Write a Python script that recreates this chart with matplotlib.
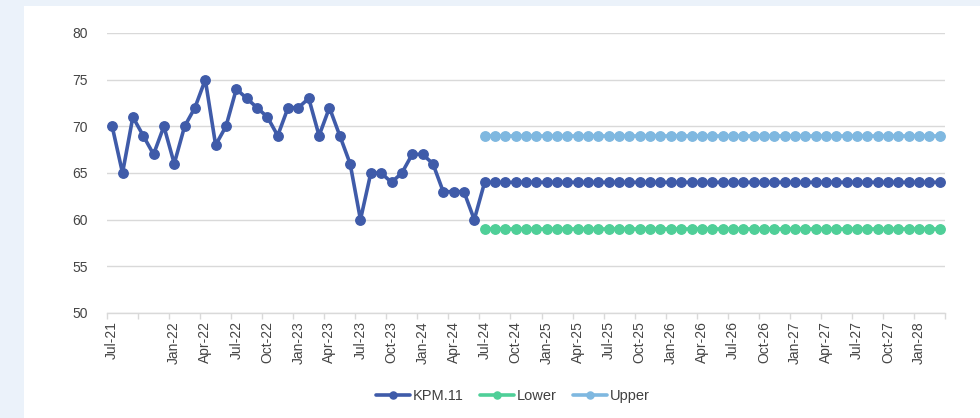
import matplotlib
matplotlib.use("Agg")
import matplotlib.pyplot as plt
from matplotlib.patches import Rectangle
import pandas as pd

# monthly KPM.11 history, Jul-21 .. Jun-24
actual = [70, 65, 71, 69, 67, 70, 66, 70, 72, 75, 68, 70,
          74, 73, 72, 71, 69, 72, 72, 73, 69, 72, 69, 66,
          60, 65, 65, 64, 65, 67, 67, 66, 63, 63, 63, 60]
# projection Jul-24 .. Mar-28
forecast = [64] * 45
lower = [59] * 45
upper = [69] * 45

months = pd.date_range("2021-07-01", periods=len(actual) + len(forecast), freq="MS")
month_labels = [m.strftime("%b-%y") for m in months]

kpm = actual + forecast
x_all = list(range(len(kpm)))
x_fc = x_all[len(actual):]

c_kpm = "#3F5BA9"
c_low = "#4FCF98"
c_up = "#7FB8E0"
grid_c = "#D9D9D9"
txt_c = "#444444"

plt.rcParams["font.family"] = ["Liberation Sans", "DejaVu Sans"]

fig = plt.figure(figsize=(9.8, 4.18), dpi=100)
fig.patch.set_facecolor("#EBF2FA")
fig.patches.append(Rectangle((24 / 980, 0), 1, 1 - 6 / 418, transform=fig.transFigure,
                             facecolor="white", edgecolor="none", zorder=-5))

ax = fig.add_axes([107 / 980, 1 - 313 / 418, (945 - 107) / 980, (313 - 33) / 418])
ax.set_facecolor("none")

style = dict(linewidth=2.6, marker="o", markersize=6.8, solid_capstyle="round")
ax.plot(x_all, kpm, color=c_kpm, label="KPM.11", zorder=4, **style)
ax.plot(x_fc, lower, color=c_low, label="Lower", zorder=3, **style)
ax.plot(x_fc, upper, color=c_up, label="Upper", zorder=3, **style)

ax.set_xlim(-0.5, len(kpm) - 0.5)
ax.set_ylim(50, 80)
ax.set_yticks(range(50, 81, 5))
ax.yaxis.grid(True, color=grid_c, linewidth=1)
ax.set_axisbelow(True)

# labels every quarter (Oct-21 is not shown), tick marks on category boundaries
label_pos = [0] + list(range(6, len(kpm), 3))
ax.set_xticks(label_pos)
ax.set_xticklabels([month_labels[i] for i in label_pos], rotation=90)
ax.set_xticks([i - 0.5 for i in range(0, len(kpm) + 1, 3)], minor=True)
ax.tick_params(axis="x", which="major", length=0, pad=6, labelsize=10, labelcolor=txt_c)
ax.tick_params(axis="x", which="minor", length=4, color=grid_c, width=1)
ax.tick_params(axis="y", length=0, pad=14, labelsize=10, labelcolor=txt_c)

for side in ["top", "right", "left"]:
    ax.spines[side].set_visible(False)
ax.spines["bottom"].set_color(grid_c)
ax.spines["bottom"].set_linewidth(1)

fig.legend(loc="center", bbox_to_anchor=(513 / 980, 1 - 396 / 418), ncol=3, frameon=False,
           fontsize=10.5, handlelength=2.3, handletextpad=0.2, columnspacing=1.15,
           markerscale=0.75, labelcolor="#404040")

fig.savefig("out.png", dpi=100, facecolor=fig.get_facecolor())
